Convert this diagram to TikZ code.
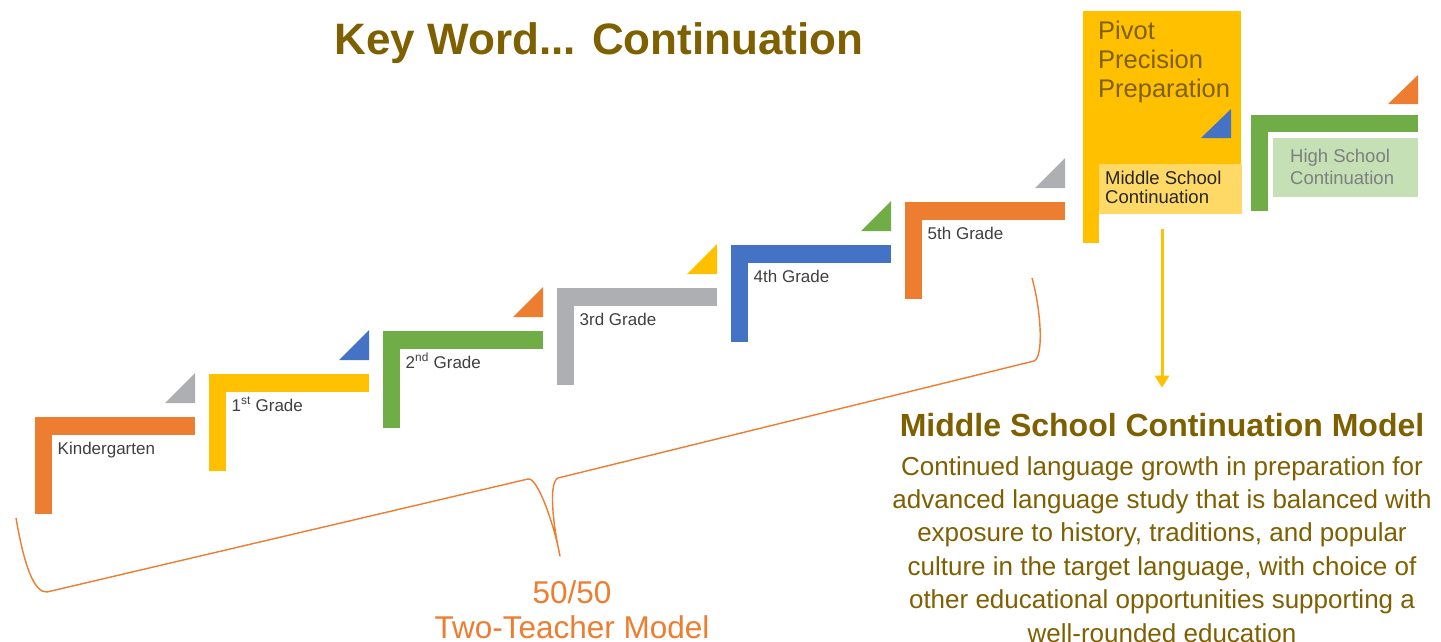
\documentclass[tikz,border=0pt]{standalone}
\usepackage{fontspec}
\setmainfont{Liberation Sans}
\usetikzlibrary{arrows.meta}
\definecolor{cOrange}{HTML}{ED7D31}
\definecolor{cYellow}{HTML}{FFC000}
\definecolor{cGreen}{HTML}{70AD47}
\definecolor{cGray}{HTML}{AEAFB3}
\definecolor{cBlue}{HTML}{4472C4}
\definecolor{cLightYel}{HTML}{FFD966}
\definecolor{cLightGrn}{HTML}{C5E0B4}
\definecolor{cBrown}{HTML}{7F6000}
\definecolor{cText}{HTML}{404040}
\definecolor{cDark}{HTML}{262626}
\definecolor{cHs}{HTML}{7F7F7F}
\newcommand{\fsz}[2]{\fontsize{#1}{#2}\selectfont}
\begin{document}
\begin{tikzpicture}[x=1pt,y=-1pt,
  gradelbl/.style={anchor=base west, inner sep=0pt, text=cText, font=\fsz{17}{20}},
  boxtxt/.style={anchor=north west, inner sep=0pt, align=left},
  brace/.style={draw=cOrange, line width=1.4pt, line join=round},
  flow/.style={draw=cYellow, line width=3pt, -{Triangle[width=14pt,length=12pt]}}]
\fill[white] (0,0) rectangle (1441,641);
\useasboundingbox (0,0) rectangle (1441,641);

% title
\node[anchor=base, inner sep=0pt, text=cBrown, font=\bfseries\fsz{44}{50}] (title) at (599,54) {Key Word... Continuation};

% grade steps
\foreach \i/\c/\t/\nm/\txt in {0/cOrange/cGray/kg/Kindergarten,
  1/cYellow/cBlue/g1/{1\textsuperscript{st} Grade},
  2/cGreen/cOrange/g2/{2\textsuperscript{nd} Grade},
  3/cGray/cYellow/g3/{3rd Grade},
  4/cBlue/cGreen/g4/{4th Grade},
  5/cOrange/cGray/g5/{5th Grade}}
{
  \pgfmathsetmacro\xx{35+174*\i}
  \pgfmathsetmacro\yy{417-43*\i}
  \fill[\c] (\xx,\yy) rectangle ++(160,18);
  \fill[\c] (\xx,\yy) rectangle ++(17,97);
  \fill[\t] (\xx+130,\yy-14) -- (\xx+160,\yy-14) -- (\xx+160,\yy-44) -- cycle;
  \node[gradelbl] (\nm) at (\xx+22.5,\yy+37) {\txt};
}

% pivot block
\fill[cYellow] (1083,11) rectangle (1241,164);
\fill[cYellow] (1083,164) rectangle (1099,243);
\fill[cBlue] (1201,138) -- (1231,138) -- (1231,109) -- cycle;
\node[boxtxt, text=cBrown, font=\fsz{25.5}{29}] (pivot) at (1098,20.8) {Pivot\\Precision\\Preparation};
\node[anchor=north west, inner sep=0pt, fill=cLightYel, minimum width=143pt, minimum height=50pt] (mscbox) at (1099,164) {};
\node[boxtxt, text=cDark, font=\fsz{18.5}{19}] (msc) at (1105,170.6) {Middle School\\Continuation};

% high school block
\fill[cGreen] (1251,115) rectangle (1418,132);
\fill[cGreen] (1251,115) rectangle (1268,211);
\fill[cOrange] (1388,104) -- (1418,104) -- (1418,75) -- cycle;
\node[anchor=north west, inner sep=0pt, fill=cLightGrn, minimum width=145pt, minimum height=59pt] (hsbox) at (1273,138) {};
\node[boxtxt, text=cHs, font=\fsz{18.5}{22}] (hs) at (1290,149) {High School\\Continuation};

% middle school model text
\node[anchor=base, inner sep=0pt, text=cBrown, font=\bfseries\fsz{32}{36}] (mscm) at (1162,436) {Middle School Continuation Model};
\node[anchor=north, inner sep=0pt, align=center, text=cBrown, font=\fsz{26}{33.4}] (desc) at (1162,456) {Continued language growth in preparation for\\advanced language study that is balanced with\\exposure to history, traditions, and popular\\culture in the target language, with choice of\\other educational opportunities supporting a\\well-rounded education};

\draw[flow, shorten <=15pt, shorten >=25pt] (mscm.north |- mscbox.south) -- (mscm.north);

% 50/50 label and brace
\node[anchor=north, inner sep=0pt, align=center, text=cOrange, font=\fsz{31.5}{35}] (model) at (572,580.5) {50/50\\Two-Teacher Model};
\coordinate (bl) at (16,518);
\coordinate (br) at (1032,278);
\draw[brace] (bl) .. controls (24,565) and (34,593) .. (47,592)
  -- (528,479) .. controls (537,477) and (553,520) .. (560,556)
  .. controls (552,520) and (549,482) .. (558,478)
  -- (1034,361) .. controls (1044,357) and (1041,310) .. (br);
\end{tikzpicture}
\end{document}
